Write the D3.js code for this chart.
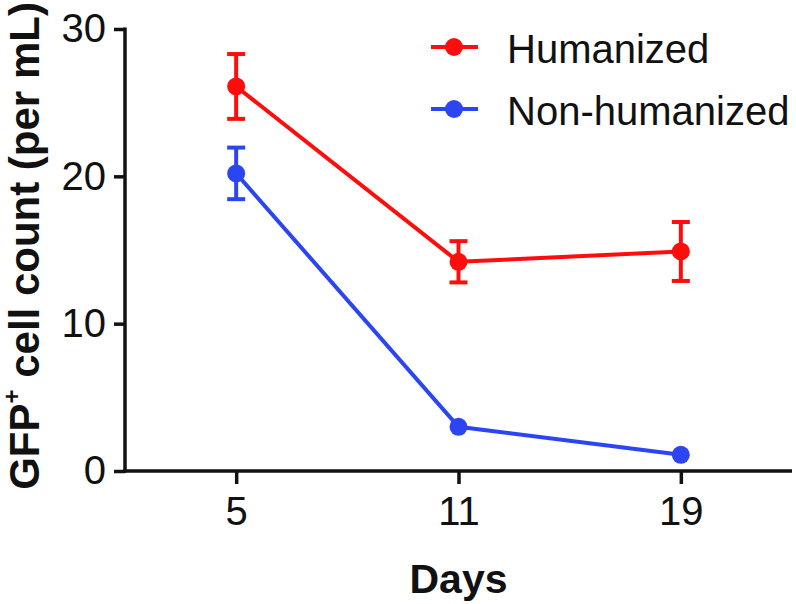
<!DOCTYPE html>
<html><head><meta charset="utf-8">
<script src="https://cdn.jsdelivr.net/npm/d3@7"></script>
<style>body{margin:0;background:#fff}svg{display:block}</style>
</head><body>
<script>
const days = ["5", "11", "19"];
const humanized = [26.1, 14.2, 14.9];
const humanizedErr = [2.2, 1.4, 2.0];
const nonHumanized = [20.2, 3.0, 1.1];
const nonHumanizedErr = [1.75, 0, 0];
const yTicks = [0, 10, 20, 30];
const seriesNames = ["Humanized", "Non-humanized"];
const colors = ["#ff0d0d", "#2b45f2"];

const W = 796, H = 604;
const svg = d3.select("body").append("svg").attr("width", W).attr("height", H);
const font = "'Liberation Sans', Arial, Helvetica, sans-serif";

const x = d3.scalePoint().domain(days).range([125, 792]).padding(0.5);
const y = d3.scaleLinear().domain([0, 30]).range([471, 29]);

const series = [
  {name: seriesNames[1], vals: nonHumanized, err: nonHumanizedErr, color: colors[1]},
  {name: seriesNames[0], vals: humanized, err: humanizedErr, color: colors[0]}
];

// axes
const yAxis = svg.append("g").attr("transform", "translate(125,0)")
  .call(d3.axisLeft(y).tickValues(yTicks).tickSize(11).tickSizeOuter(0).tickPadding(8));
const xAxis = svg.append("g").attr("transform", "translate(0,471)")
  .call(d3.axisBottom(x).tickSize(13).tickSizeOuter(0).tickPadding(13));
[yAxis, xAxis].forEach(g => {
  g.select(".domain").attr("stroke", "#111").attr("stroke-width", 3.5);
  g.selectAll(".tick line").attr("stroke", "#111").attr("stroke-width", 3.5);
  g.selectAll(".tick text").attr("fill", "#111").style("font-family", font).style("font-size", "40px");
});
xAxis.select(".domain").attr("d", "M123.25,0H792");
yAxis.select(".domain").attr("d", "M0,472.75V27.5");

// series
const line = d3.line().x((d, i) => x(days[i])).y(d => y(d));
series.forEach(s => {
  const g = svg.append("g");
  g.append("path").datum(s.vals).attr("d", line).attr("fill", "none")
    .attr("stroke", s.color).attr("stroke-width", 4);
  s.vals.forEach((v, i) => {
    const e = s.err[i];
    if (e > 0) {
      const cx = x(days[i]);
      g.append("line").attr("x1", cx).attr("x2", cx).attr("y1", y(v + e)).attr("y2", y(v - e))
        .attr("stroke", s.color).attr("stroke-width", 4);
      [v + e, v - e].forEach(b => {
        g.append("line").attr("x1", cx - 9).attr("x2", cx + 9).attr("y1", y(b)).attr("y2", y(b))
          .attr("stroke", s.color).attr("stroke-width", 4);
      });
    }
  });
  g.selectAll("circle").data(s.vals).join("circle")
    .attr("cx", (d, i) => x(days[i])).attr("cy", d => y(d)).attr("r", 9).attr("fill", s.color);
});

// legend
const legend = [{name: seriesNames[0], color: colors[0], y: 47}, {name: seriesNames[1], color: colors[1], y: 109}];
legend.forEach(l => {
  svg.append("line").attr("x1", 431).attr("x2", 478).attr("y1", l.y).attr("y2", l.y)
    .attr("stroke", l.color).attr("stroke-width", 4);
  svg.append("circle").attr("cx", 454).attr("cy", l.y).attr("r", 9).attr("fill", l.color);
  svg.append("text").attr("x", 507).attr("y", l.y + 16).text(l.name)
    .style("font-family", font).style("font-size", "40px").attr("fill", "#111");
});

// axis titles
svg.append("text").attr("x", 458.5).attr("y", 593).attr("text-anchor", "middle")
  .style("font-family", font).style("font-size", "41px").style("font-weight", "bold").attr("fill", "#111")
  .text("Days");
const yt = svg.append("text").attr("transform", "translate(39,246) rotate(-90)").attr("text-anchor", "middle")
  .style("font-family", font).style("font-size", "42px").style("font-weight", "bold").attr("fill", "#111");
yt.append("tspan").text("GFP");
yt.append("tspan").attr("dy", -19).style("font-size", "24px").text("+");
yt.append("tspan").attr("dy", 19).text(" cell count (per mL)");
</script>
</body></html>
